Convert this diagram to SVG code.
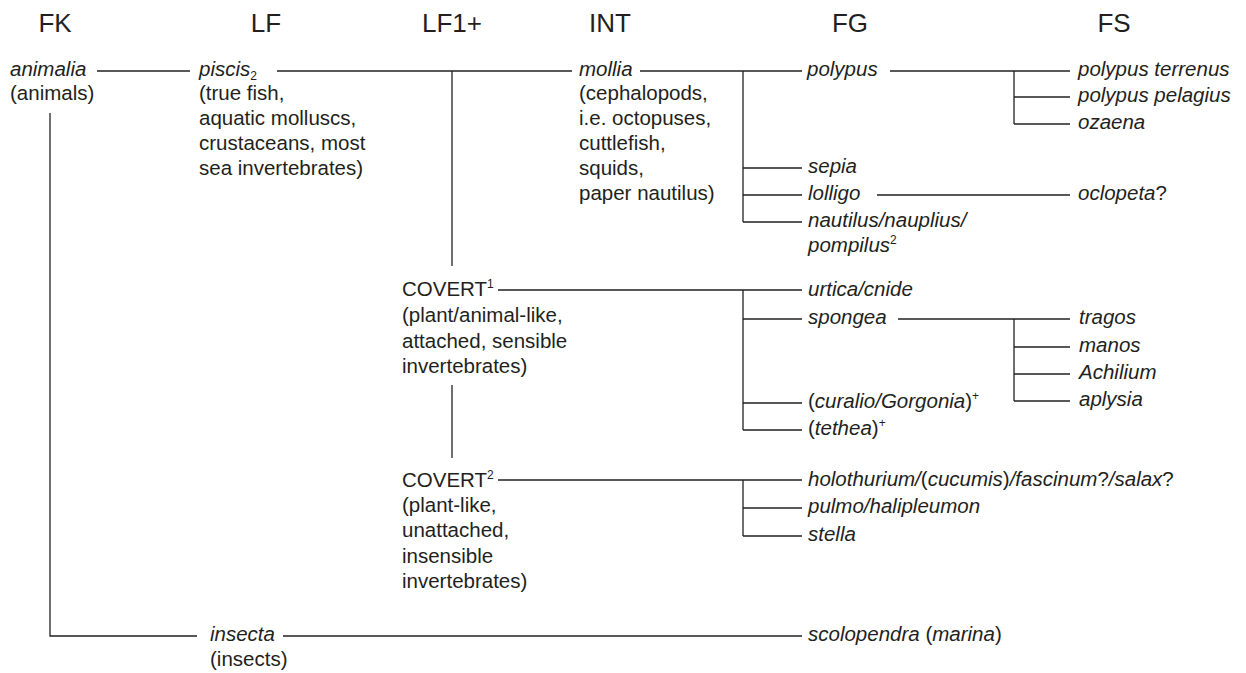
<svg xmlns="http://www.w3.org/2000/svg" width="1246" height="673" viewBox="0 0 1246 673">
<style>
text{font-family:"Liberation Sans",Arial,Helvetica,sans-serif;fill:#231f20}
.h{font-size:26px;text-anchor:middle}
.t{font-size:20.5px}
.i{font-style:italic}
.s{font-size:12px}
.c line,.c polyline{stroke:#231f20;stroke-width:1.3;fill:none}
</style>
<rect width="1246" height="673" fill="#fff"/>
<g id="headers">
<text class="h" x="55" y="32">FK</text>
<text class="h" x="266" y="32">LF</text>
<text class="h" x="452" y="32">LF1+</text>
<text class="h" x="610" y="32">INT</text>
<text class="h" x="850" y="32">FG</text>
<text class="h" x="1114" y="32">FS</text>
</g>
<g class="c" id="connectors">
<line x1="97" y1="71" x2="190" y2="71"/>
<polyline points="50,113 50,636 197,636"/>
<line x1="277" y1="71" x2="572" y2="71"/>
<line x1="452" y1="71" x2="452" y2="266"/>
<line x1="452" y1="385" x2="452" y2="458"/>
<line x1="640" y1="71" x2="802" y2="71"/>
<line x1="743" y1="71" x2="743" y2="222"/>
<line x1="743" y1="168" x2="802" y2="168"/>
<line x1="743" y1="195" x2="802" y2="195"/>
<line x1="743" y1="222" x2="802" y2="222"/>
<line x1="890" y1="71" x2="1070" y2="71"/>
<line x1="1014" y1="71" x2="1014" y2="124"/>
<line x1="1014" y1="97" x2="1070" y2="97"/>
<line x1="1014" y1="124" x2="1070" y2="124"/>
<line x1="877" y1="195" x2="1070" y2="195"/>
<line x1="498" y1="290" x2="802" y2="290"/>
<line x1="743" y1="290" x2="743" y2="430"/>
<line x1="743" y1="319" x2="802" y2="319"/>
<line x1="743" y1="403" x2="802" y2="403"/>
<line x1="743" y1="430" x2="802" y2="430"/>
<line x1="898" y1="319" x2="1070" y2="319"/>
<line x1="1014" y1="319" x2="1014" y2="401"/>
<line x1="1014" y1="347" x2="1070" y2="347"/>
<line x1="1014" y1="374" x2="1070" y2="374"/>
<line x1="1014" y1="401" x2="1070" y2="401"/>
<line x1="498" y1="480" x2="802" y2="480"/>
<line x1="743" y1="480" x2="743" y2="536"/>
<line x1="743" y1="508" x2="802" y2="508"/>
<line x1="743" y1="536" x2="802" y2="536"/>
<line x1="283" y1="636" x2="802" y2="636"/>
</g>
<g id="animalia"><text class="t i" x="10" y="76">animalia</text><text class="t" x="10" y="100">(animals)</text></g>
<g id="piscis"><text class="t" x="199" y="76"><tspan class="i">piscis</tspan><tspan class="s" dy="4">2</tspan></text>
<text class="t" x="199" y="100">(true fish,</text>
<text class="t" x="199" y="125">aquatic molluscs,</text>
<text class="t" x="199" y="150">crustaceans, most</text>
<text class="t" x="199" y="175">sea invertebrates)</text></g>
<g id="mollia"><text class="t i" x="579" y="76">mollia</text>
<text class="t" x="579" y="100">(cephalopods,</text>
<text class="t" x="579" y="125">i.e. octopuses,</text>
<text class="t" x="579" y="150">cuttlefish,</text>
<text class="t" x="579" y="175">squids,</text>
<text class="t" x="579" y="200">paper nautilus)</text></g>
<g id="polypus"><text class="t i" x="807" y="76">polypus</text></g>
<g id="polypus-terrenus"><text class="t i" x="1078" y="76">polypus terrenus</text></g>
<g id="polypus-pelagius"><text class="t i" x="1078" y="102">polypus pelagius</text></g>
<g id="ozaena"><text class="t i" x="1078" y="129">ozaena</text></g>
<g id="sepia"><text class="t i" x="808" y="173">sepia</text></g>
<g id="lolligo"><text class="t i" x="808" y="200">lolligo</text></g>
<g id="oclopeta"><text class="t" x="1078" y="200"><tspan class="i">oclopeta</tspan>?</text></g>
<g id="nautilus"><text class="t i" x="808" y="227">nautilus/nauplius/</text>
<text class="t" x="808" y="252"><tspan class="i">pompilus</tspan><tspan class="s" dy="-8">2</tspan></text></g>
<g id="covert1"><text class="t" x="402" y="296">COVERT<tspan class="s" dy="-8">1</tspan></text>
<text class="t" x="402" y="322">(plant/animal-like,</text>
<text class="t" x="402" y="348">attached, sensible</text>
<text class="t" x="402" y="373">invertebrates)</text></g>
<g id="urtica"><text class="t i" x="808" y="296">urtica/cnide</text></g>
<g id="spongea"><text class="t i" x="808" y="324">spongea</text></g>
<g id="tragos"><text class="t i" x="1079" y="324">tragos</text></g>
<g id="manos"><text class="t i" x="1079" y="352">manos</text></g>
<g id="achilium"><text class="t i" x="1079" y="379">Achilium</text></g>
<g id="aplysia"><text class="t i" x="1079" y="406">aplysia</text></g>
<g id="curalio"><text class="t" x="808" y="408">(<tspan class="i">curalio/Gorgonia</tspan>)<tspan class="s" dy="-8">+</tspan></text></g>
<g id="tethea"><text class="t" x="808" y="435">(<tspan class="i">tethea</tspan>)<tspan class="s" dy="-8">+</tspan></text></g>
<g id="covert2"><text class="t" x="402" y="487">COVERT<tspan class="s" dy="-8">2</tspan></text>
<text class="t" x="402" y="512">(plant-like,</text>
<text class="t" x="402" y="537">unattached,</text>
<text class="t" x="402" y="563">insensible</text>
<text class="t" x="402" y="588">invertebrates)</text></g>
<g id="holothurium"><text class="t" x="808" y="486"><tspan class="i">holothurium/</tspan>(<tspan class="i">cucumis</tspan>)<tspan class="i">/fascinum</tspan>?<tspan class="i">/salax</tspan>?</text></g>
<g id="pulmo"><text class="t i" x="808" y="513">pulmo/halipleumon</text></g>
<g id="stella"><text class="t i" x="808" y="541">stella</text></g>
<g id="insecta"><text class="t i" x="210" y="641">insecta</text><text class="t" x="210" y="666">(insects)</text></g>
<g id="scolopendra"><text class="t" x="808" y="641"><tspan class="i">scolopendra</tspan> (<tspan class="i">marina</tspan>)</text></g>
</svg>
